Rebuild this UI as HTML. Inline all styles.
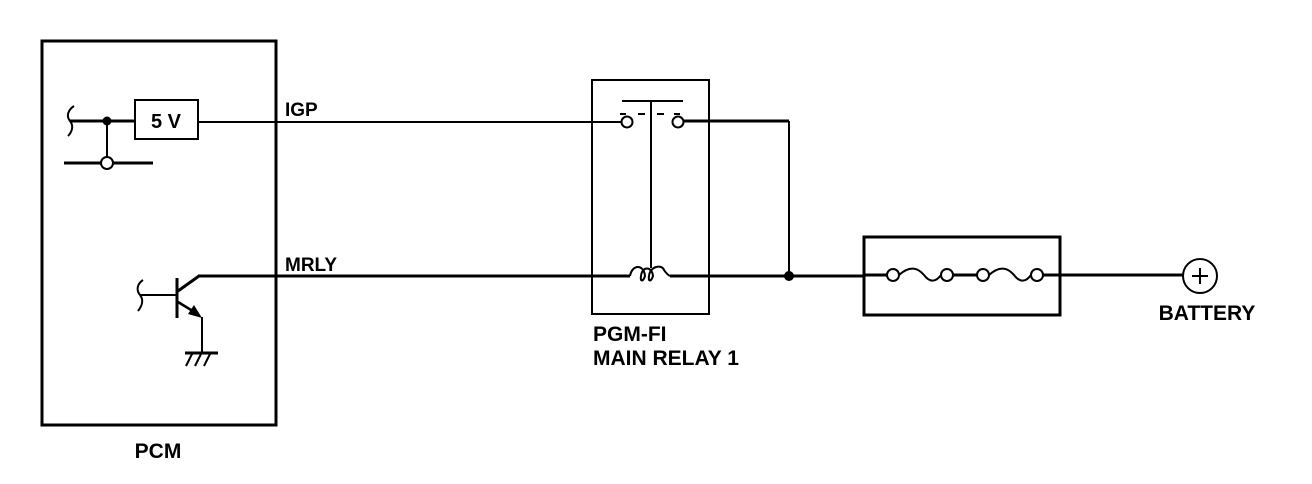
<!DOCTYPE html>
<html><head><style>
html,body{margin:0;padding:0;background:#fff;}
svg{display:block;}
text{font-family:"Liberation Sans",Arial,sans-serif;font-weight:bold;fill:#000;}
</style></head><body>
<svg width="1312" height="484" viewBox="0 0 1312 484" xmlns="http://www.w3.org/2000/svg" fill="none" stroke="#000">
<!-- PCM box -->
<rect x="42" y="41" width="234" height="384" stroke-width="3"/>
<text x="158" y="458" font-size="21" text-anchor="middle" stroke="none">PCM</text>
<!-- 5V section -->
<path d="M74,106 C68,110 66,116 70,121 C74,126 72,132 68,136" stroke-width="2"/>
<line x1="70" y1="121" x2="134" y2="121" stroke-width="3"/>
<circle cx="107" cy="121" r="4.5" fill="#000" stroke="none"/>
<line x1="107" y1="121" x2="107" y2="157" stroke-width="2"/>
<line x1="64" y1="163" x2="101" y2="163" stroke-width="3"/>
<line x1="113" y1="163" x2="153" y2="163" stroke-width="3"/>
<circle cx="107" cy="163" r="6" stroke-width="2" fill="#fff"/>
<rect x="135" y="100" width="63" height="39" stroke-width="2"/>
<text x="166" y="128" font-size="20" text-anchor="middle" stroke="none">5 V</text>
<line x1="198" y1="122" x2="621" y2="122" stroke-width="2"/>
<text x="285" y="116" font-size="19" stroke="none">IGP</text>
<!-- transistor -->
<path d="M143,280 C137,284 136,290 140,295 C144,300 142,306 138,311" stroke-width="2"/>
<line x1="140" y1="295" x2="177" y2="295" stroke-width="2"/>
<line x1="177" y1="278" x2="177" y2="318" stroke-width="3"/>
<line x1="178" y1="291" x2="199" y2="276" stroke-width="3"/>
<line x1="178" y1="302" x2="196" y2="313" stroke-width="2.5"/>
<polygon points="202,318 188,314 194,305" fill="#000" stroke="none"/>
<line x1="202" y1="317" x2="202" y2="353" stroke-width="2"/>
<line x1="185" y1="353" x2="218" y2="353" stroke-width="3"/>
<line x1="192" y1="354" x2="186" y2="366" stroke-width="2"/>
<line x1="201" y1="354" x2="195" y2="366" stroke-width="2"/>
<line x1="210" y1="354" x2="204" y2="366" stroke-width="2"/>
<line x1="198" y1="276" x2="630" y2="276" stroke-width="3"/>
<text x="285" y="271" font-size="19" stroke="none">MRLY</text>
<!-- relay -->
<rect x="592" y="80" width="117" height="234" stroke-width="2"/>
<line x1="622" y1="101" x2="683" y2="101" stroke-width="2"/>
<line x1="651" y1="101" x2="651" y2="268" stroke-width="2"/>
<circle cx="627" cy="122" r="5.5" stroke-width="2"/>
<circle cx="678" cy="122" r="5.5" stroke-width="2"/>
<line x1="620" y1="114" x2="626" y2="114" stroke-width="2"/>
<line x1="638" y1="114" x2="645" y2="114" stroke-width="2"/>
<line x1="657" y1="114" x2="664" y2="114" stroke-width="2"/>
<line x1="674" y1="114" x2="680" y2="114" stroke-width="2"/>
<line x1="684" y1="121" x2="789" y2="121" stroke-width="3"/>
<line x1="789" y1="121" x2="789" y2="276" stroke-width="2"/>
<path d="M630,276 C632,264 644,264 645,276 C643,282 640,282 641,276 C642,266 652,266 653,276 C651,282 648,282 649,276 C650,266 662,264 664,270 C666,273 668,275 670,276" stroke-width="2"/>
<line x1="670" y1="276" x2="864" y2="276" stroke-width="3"/>
<circle cx="789" cy="276" r="5" fill="#000" stroke="none"/>
<text x="593" y="341" font-size="21" stroke="none">PGM-FI</text>
<text x="593" y="365" font-size="21" stroke="none">MAIN RELAY 1</text>
<!-- fuse box -->
<rect x="864" y="237" width="196" height="78" stroke-width="3"/>
<line x1="864" y1="275" x2="887" y2="275" stroke-width="3"/>
<circle cx="893" cy="275" r="6" stroke-width="2"/>
<path d="M899,275 C910,265 918,268 924,275 C930,283 936,282 941,275" stroke-width="2"/>
<circle cx="947" cy="275" r="6" stroke-width="2"/>
<line x1="953" y1="275" x2="977" y2="275" stroke-width="3"/>
<circle cx="983" cy="275" r="6" stroke-width="2"/>
<path d="M989,275 C1000,265 1008,268 1014,275 C1020,283 1026,282 1031,275" stroke-width="2"/>
<circle cx="1037" cy="275" r="6" stroke-width="2"/>
<line x1="1043" y1="275" x2="1183" y2="275" stroke-width="3"/>
<circle cx="1200" cy="276" r="17" stroke-width="2"/>
<line x1="1192" y1="276" x2="1208" y2="276" stroke-width="2"/>
<line x1="1200" y1="268" x2="1200" y2="284" stroke-width="2"/>
<text x="1207" y="320" font-size="21" text-anchor="middle" stroke="none">BATTERY</text>
</svg>
</body></html>
